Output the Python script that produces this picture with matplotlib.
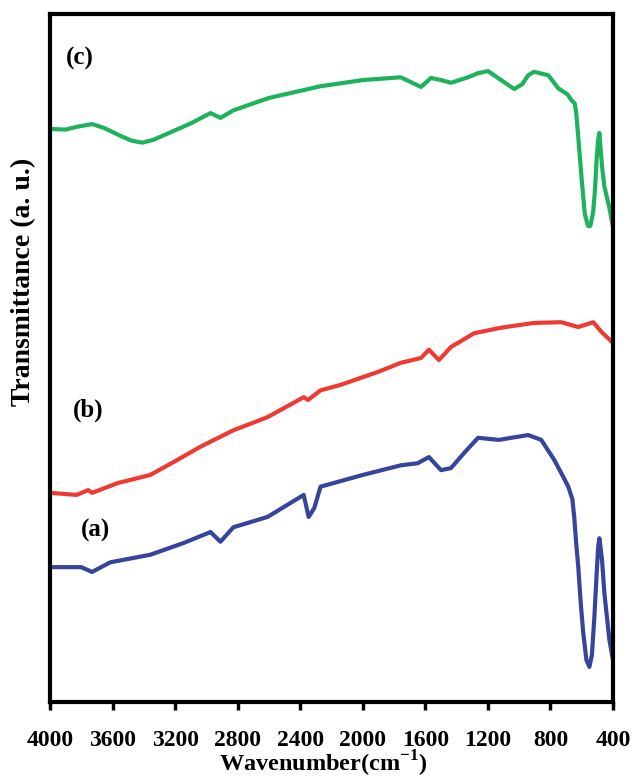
import numpy as np
import matplotlib
matplotlib.use('Agg')
import matplotlib.pyplot as plt

# (c) green
wn_c = [4000, 3900, 3830, 3730, 3650, 3560, 3480, 3410, 3340, 3250, 3100, 2974, 2910,
        2827, 2600, 2270, 2000, 1757, 1628, 1564, 1500, 1436, 1327, 1263, 1199, 1116,
        1032, 980, 942, 904, 814, 750, 690, 667, 645, 635, 620, 600, 580, 560, 545, 527,
        515, 505, 495, 487, 470, 455, 423, 400]
t_c = [83.3, 83.2, 83.6, 84.0, 83.4, 82.4, 81.6, 81.3, 81.7, 82.6, 84.1, 85.6, 84.9,
       86.0, 87.8, 89.5, 90.4, 90.8, 89.4, 90.7, 90.4, 90.0, 90.8, 91.4, 91.7, 90.4,
       89.1, 89.8, 91.1, 91.6, 91.1, 89.2, 88.3, 87.5, 87.0, 85.6, 81.5, 75.9, 70.9,
       69.2, 69.2, 71.2, 74.5, 78.8, 81.7, 82.7, 77.8, 74.9, 71.8, 69.0]

# (b) red
wn_b = [4000, 3830, 3756, 3730, 3570, 3359, 3200, 3038, 2827, 2609, 2378, 2350, 2270,
        2141, 1900, 1757, 1628, 1577, 1513, 1436, 1288, 1116, 904, 731, 622, 526, 474, 400]
t_b = [30.4, 30.1, 30.8, 30.4, 31.8, 33.0, 35.0, 37.1, 39.5, 41.4, 44.3, 43.9, 45.3,
       46.1, 48.0, 49.3, 50.0, 51.2, 49.7, 51.6, 53.6, 54.4, 55.1, 55.2, 54.5, 55.2,
       53.8, 52.2]

# (a) blue
wn_a = [4000, 3800, 3731, 3615, 3359, 3147, 2974, 2910, 2827, 2609, 2378, 2346, 2310,
        2270, 2000, 1757, 1650, 1577, 1500, 1436, 1352, 1263, 1129, 1050, 942, 859, 776,
        720, 686, 660, 648, 635, 622, 605, 590, 570, 551, 535, 519, 505, 495, 487, 470,
        455, 423, 400]
t_a = [19.6, 19.6, 18.9, 20.3, 21.4, 23.1, 24.7, 23.3, 25.4, 26.9, 30.1, 26.9, 28.2,
       31.3, 33.0, 34.4, 34.7, 35.6, 33.7, 34.0, 36.2, 38.4, 38.1, 38.4, 38.8, 38.1,
       35.2, 32.8, 31.3, 29.5, 26.9, 23.0, 19.6, 14.0, 10.0, 6.1, 5.1, 6.8, 12.4, 18.5,
       22.5, 23.8, 20.6, 15.8, 9.0, 6.1]

labels = ['(a)', '(b)', '(c)']
xticks = [4000, 3600, 3200, 2800, 2400, 2000, 1600, 1200, 800, 400]

plt.rcParams['font.family'] = 'Liberation Serif'
plt.rcParams['font.weight'] = 'bold'
plt.rcParams['mathtext.fontset'] = 'custom'
plt.rcParams['mathtext.rm'] = 'Liberation Serif:bold'
plt.rcParams['mathtext.bf'] = 'Liberation Serif:bold'

fig = plt.figure(figsize=(6.33, 7.81), dpi=100)
ax = fig.add_axes([50/633, 1-702/781, 563/633, 688/781])

ax.plot(wn_a, t_a, color='#36449b', lw=3)
ax.plot(wn_b, t_b, color='#ee3a33', lw=3)
ax.plot(wn_c, t_c, color='#1db35c', lw=3)

ax.text(3808, 93.6, labels[2], fontsize=18, fontweight='bold', ha='center', va='center')
ax.text(3756, 42.4, labels[1], fontsize=18, fontweight='bold', ha='center', va='center')
ax.text(3712, 25.0, labels[0], fontsize=18, fontweight='bold', ha='center', va='center')

ax.set_xlim(4000, 400)
ax.set_ylim(0, 100)
ax.set_xticks(xticks)
ax.set_xticklabels([str(x) for x in xticks], fontsize=17, fontweight='bold')
ax.set_yticks([])
ax.tick_params(axis='x', direction='out', length=6, width=2.5, pad=14)
for s in ax.spines.values():
    s.set_linewidth(3)

ax.set_xlabel('Wavenumber(cm$^{\\mathrm{-1}}$)', fontsize=17.5, fontweight='bold', labelpad=0)
ax.xaxis.set_label_coords(0.485, -0.068)
ax.set_ylabel('Transmittance (a. u.)', fontsize=20, fontweight='bold')
ax.yaxis.set_label_coords(-0.025, 0.61)

fig.savefig('out.png', dpi=100)
